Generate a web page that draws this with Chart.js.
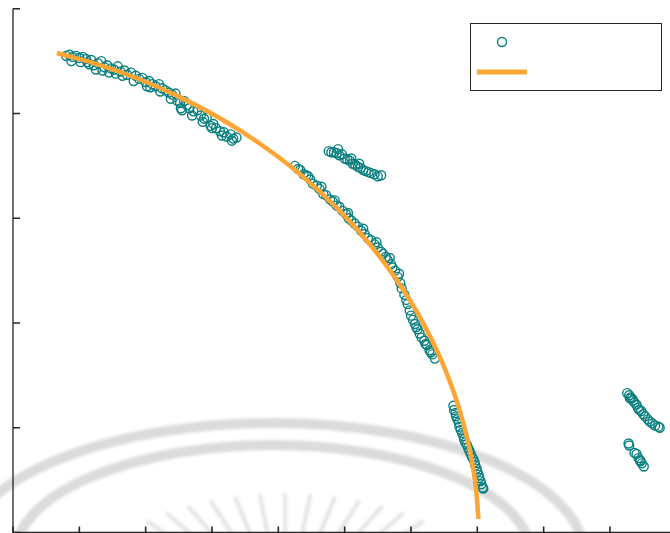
<!DOCTYPE html>
<html>
<head>
<meta charset="utf-8">
<script src="https://cdn.jsdelivr.net/npm/chart.js@4.4.1/dist/chart.umd.min.js"></script>
<style>
  html, body { margin: 0; padding: 0; background: #fff; overflow: hidden; }
  #wrap { width: 690px; height: 533px; }
</style>
</head>
<body>
<div id="wrap"><canvas id="chart" width="690" height="533"></canvas></div>
<script>
// axis ticks (no labels shown)
const xTickValues = [0, 1, 2, 3, 4, 5, 6, 7, 8, 9, 10];
const yTickValues = [0, 1, 2, 3, 4, 5];

// fitted curve
const fitX = [0.663, 1.312, 1.915, 2.518, 3.121, 3.724, 4.327, 4.930, 5.382, 5.834, 6.211, 6.513, 6.739, 6.890, 6.980, 7.018];
const fitY = [4.577, 4.462, 4.324, 4.156, 3.954, 3.711, 3.421, 3.068, 2.749, 2.364, 1.965, 1.559, 1.155, 0.776, 0.419, 0.129];

// measured points, grouped by stretch
const upperArc = [
  [0.80, 4.55], [0.85, 4.56], [0.90, 4.54], [0.95, 4.55], [1.00, 4.53], [1.05, 4.54], [1.10, 4.52],
  [1.12, 4.49], [1.18, 4.51], [1.22, 4.46], [1.25, 4.42], [1.28, 4.48], [1.33, 4.50], [1.38, 4.44],
  [1.42, 4.46], [1.48, 4.43], [1.52, 4.42], [1.55, 4.38], [1.58, 4.45], [1.62, 4.40], [1.68, 4.41],
  [1.72, 4.37], [1.78, 4.39], [1.85, 4.36], [1.90, 4.33], [1.95, 4.34], [2.00, 4.30], [2.05, 4.31],
  [2.07, 4.25], [2.10, 4.28], [2.15, 4.26], [2.20, 4.28], [2.25, 4.24], [2.30, 4.22], [2.35, 4.20],
  [2.40, 4.18], [2.45, 4.19], [2.48, 4.12], [2.52, 4.10], [2.53, 4.05], [2.58, 4.12], [2.62, 4.08],
  [2.66, 4.05], [2.72, 4.02], [2.78, 4.03], [2.83, 3.98], [2.88, 3.95], [2.92, 3.96], [2.98, 3.88],
  [3.02, 3.90], [3.06, 3.86], [3.12, 3.83], [3.18, 3.82], [3.22, 3.78], [3.28, 3.80], [3.32, 3.76],
  [3.37, 3.77],
  [0.88, 4.50], [1.02, 4.49], [1.15, 4.47], [1.35, 4.41], [1.45, 4.39], [1.65, 4.36], [1.82, 4.31],
  [2.02, 4.26], [2.22, 4.21], [2.38, 4.14], [2.55, 4.03], [2.70, 3.98], [2.86, 3.92], [3.00, 3.86],
  [3.15, 3.79], [3.30, 3.74]
];
const middleArc = [
  [4.25, 3.50], [4.30, 3.47], [4.33, 3.46], [4.38, 3.42], [4.42, 3.41], [4.48, 3.37], [4.52, 3.33],
  [4.58, 3.31], [4.62, 3.28], [4.68, 3.23], [4.72, 3.22], [4.78, 3.18], [4.82, 3.16], [4.88, 3.12],
  [4.92, 3.11], [4.97, 3.07], [5.02, 3.04], [5.06, 3.00], [5.10, 2.98], [5.15, 2.95], [5.20, 2.92],
  [5.25, 2.88], [5.30, 2.85], [5.35, 2.81], [5.40, 2.79], [5.45, 2.75], [5.50, 2.72], [5.55, 2.68],
  [5.58, 2.66], [5.62, 2.63], [5.65, 2.60], [5.70, 2.56], [5.72, 2.53], [5.76, 2.50], [5.80, 2.44],
  [5.84, 2.38], [5.86, 2.33], [5.90, 2.27], [5.93, 2.22], [5.95, 2.18], [5.98, 2.12], [6.00, 2.07],
  [6.03, 2.03], [6.06, 1.99], [6.10, 1.94], [6.13, 1.90], [6.16, 1.86], [6.20, 1.83], [6.24, 1.79],
  [6.28, 1.74], [6.32, 1.70], [6.36, 1.66],
  [4.45, 3.40], [4.65, 3.30], [4.85, 3.17], [5.05, 3.05], [5.28, 2.90], [5.48, 2.77], [5.68, 2.62],
  [5.82, 2.47], [6.08, 1.96], [6.22, 1.80], [6.30, 1.72]
];
const offsetGroup = [
  [4.76, 3.64], [4.80, 3.63], [4.84, 3.63], [4.88, 3.62], [4.90, 3.66], [4.92, 3.60], [4.96, 3.61],
  [5.00, 3.57], [5.04, 3.56], [5.08, 3.55], [5.10, 3.57], [5.12, 3.52], [5.16, 3.51], [5.20, 3.49],
  [5.22, 3.52], [5.24, 3.48], [5.28, 3.46], [5.32, 3.45], [5.36, 3.44], [5.40, 3.43], [5.45, 3.42],
  [5.50, 3.40], [5.55, 3.41]
];
const lowerArc = [
  [6.64, 1.21], [6.65, 1.17], [6.67, 1.14], [6.68, 1.11], [6.70, 1.08], [6.72, 1.05], [6.73, 1.01],
  [6.75, 0.98], [6.77, 0.95], [6.79, 0.92], [6.80, 0.89], [6.82, 0.86], [6.84, 0.84], [6.86, 0.81],
  [6.88, 0.78], [6.90, 0.75], [6.92, 0.72], [6.94, 0.70], [6.96, 0.67], [6.97, 0.64], [6.99, 0.61],
  [7.00, 0.58], [7.02, 0.55], [7.03, 0.52], [7.05, 0.49], [7.06, 0.46], [7.08, 0.43], [7.09, 0.42]
];
const farUpper = [
  [9.26, 1.33], [9.29, 1.31], [9.30, 1.28], [9.31, 1.29], [9.33, 1.28], [9.35, 1.26], [9.37, 1.24],
  [9.40, 1.22], [9.42, 1.19], [9.44, 1.17], [9.47, 1.16], [9.50, 1.13], [9.53, 1.11], [9.57, 1.08],
  [9.60, 1.06], [9.64, 1.04], [9.68, 1.02], [9.73, 1.01], [9.75, 1.00]
];
const farLower = [
  [9.28, 0.85], [9.29, 0.83], [9.37, 0.76], [9.40, 0.75], [9.43, 0.71], [9.45, 0.69], [9.46, 0.68],
  [9.48, 0.66], [9.51, 0.63]
];

const TEAL = '#0b7f7f';
const ORANGE = '#ffa533';
const AXIS = '#262626';

const measured = [...upperArc, ...middleArc, ...offsetGroup, ...lowerArc, ...farUpper, ...farLower]
  .map(p => ({ x: p[0], y: p[1] }));
const fitted = fitX.map((x, i) => ({ x: x, y: fitY[i] }));

// faint seal in the background
const sealPlugin = {
  id: 'seal',
  beforeDatasetsDraw(chart) {
    const ctx = chart.ctx;
    ctx.save();
    ctx.filter = 'blur(1.5px)';
    ctx.strokeStyle = 'rgba(200,200,200,0.65)';
    ctx.lineWidth = 10;
    ctx.beginPath();
    ctx.ellipse(273, 555, 311, 132, 0, Math.PI, 2 * Math.PI);
    ctx.stroke();
    ctx.beginPath();
    ctx.ellipse(273, 555, 258, 110, 0, Math.PI, 2 * Math.PI);
    ctx.stroke();
    ctx.strokeStyle = 'rgba(200,200,200,0.5)';
    ctx.lineWidth = 4;
    ctx.lineCap = 'round';
    for (let a = -42; a <= 42; a += 7) {
      const r = a * Math.PI / 180;
      ctx.beginPath();
      ctx.moveTo(285 + Math.sin(r) * 130, 600 - Math.cos(r) * 60);
      ctx.lineTo(285 + Math.sin(r) * 205, 600 - Math.cos(r) * 105);
      ctx.stroke();
    }
    ctx.restore();
  }
};

// box axes with inward ticks, plus the legend box
const axesPlugin = {
  id: 'boxAxes',
  afterDraw(chart) {
    const { ctx, chartArea, scales } = chart;
    ctx.save();
    ctx.strokeStyle = AXIS;
    ctx.lineWidth = 1.3;
    ctx.beginPath();
    ctx.moveTo(chartArea.left, chartArea.top);
    ctx.lineTo(chartArea.left, chartArea.bottom);
    ctx.lineTo(chartArea.right, chartArea.bottom);
    ctx.stroke();

    ctx.lineWidth = 1.6;
    ctx.beginPath();
    yTickValues.forEach(v => {
      const y = scales.y.getPixelForValue(v);
      ctx.moveTo(chartArea.left, y);
      ctx.lineTo(chartArea.left + 7, y);
    });
    xTickValues.forEach(v => {
      const x = scales.x.getPixelForValue(v);
      ctx.moveTo(x, chartArea.bottom);
      ctx.lineTo(x, chartArea.bottom - 6);
    });
    ctx.stroke();

    // legend
    ctx.fillStyle = '#fff';
    ctx.fillRect(470.5, 23.5, 191, 67);
    ctx.lineWidth = 1;
    ctx.strokeStyle = AXIS;
    ctx.strokeRect(470.5, 23.5, 191, 67);
    ctx.strokeStyle = TEAL;
    ctx.lineWidth = 1.4;
    ctx.beginPath();
    ctx.arc(502, 42, 4.5, 0, 2 * Math.PI);
    ctx.stroke();
    ctx.strokeStyle = ORANGE;
    ctx.lineWidth = 5;
    ctx.beginPath();
    ctx.moveTo(477, 72);
    ctx.lineTo(527, 72);
    ctx.stroke();
    ctx.restore();
  }
};

new Chart(document.getElementById('chart'), {
  type: 'scatter',
  data: {
    datasets: [
      {
        label: '',
        data: fitted,
        showLine: true,
        borderColor: ORANGE,
        borderWidth: 4.5,
        pointRadius: 0,
        cubicInterpolationMode: 'monotone',
        order: 1
      },
      {
        label: '',
        data: measured,
        pointRadius: 4.5,
        pointBorderWidth: 1.4,
        pointBorderColor: TEAL,
        pointBackgroundColor: 'rgba(0,0,0,0)',
        order: 2
      }
    ]
  },
  options: {
    responsive: false,
    animation: false,
    devicePixelRatio: 1,
    layout: { autoPadding: false, padding: { left: 13, right: 13.7, top: 8.7, bottom: 0.5 } },
    scales: {
      x: { type: 'linear', min: 0, max: 10, display: false },
      y: { type: 'linear', min: 0, max: 5, display: false }
    },
    plugins: {
      legend: { display: false },
      tooltip: { enabled: false }
    }
  },
  plugins: [sealPlugin, axesPlugin]
});
</script>
</body>
</html>
